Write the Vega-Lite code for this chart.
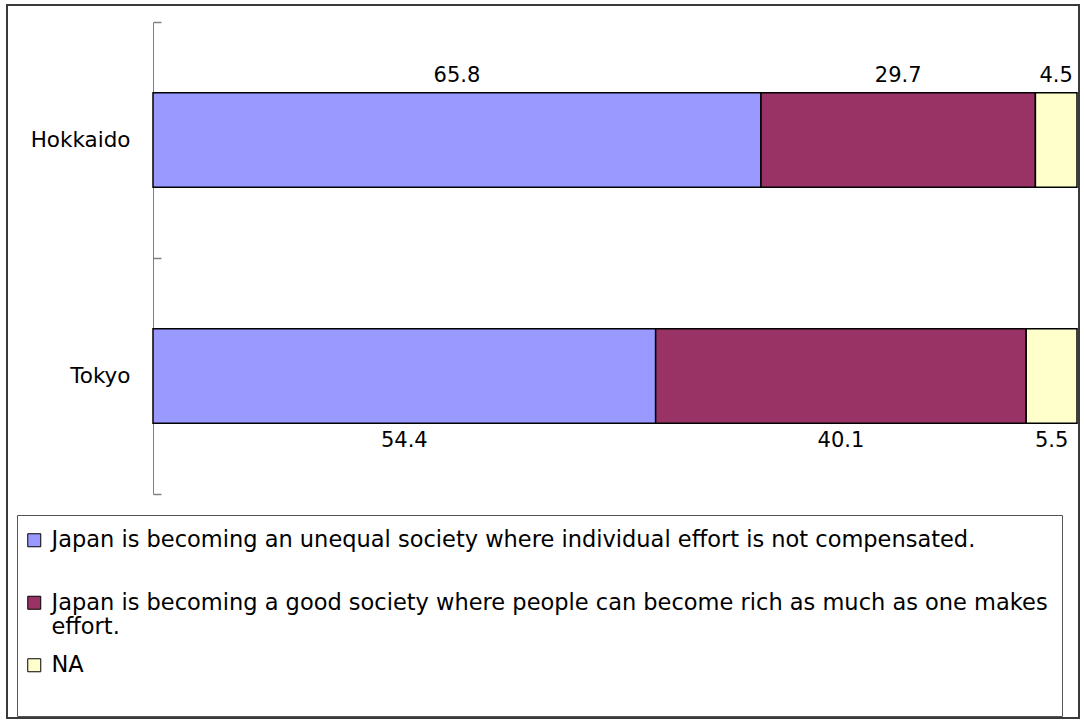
{
  "$schema": "https://vega.github.io/schema/vega-lite/v6.json",
  "width": 1072,
  "height": 713,
  "autosize": {"type": "none"},
  "padding": {"left": 7, "top": 5, "right": 5, "bottom": 4},
  "background": "white",
  "config": {
    "view": {"stroke": "#3a3a3a", "strokeWidth": 2},
    "font": "DejaVu Sans"
  },
  "data": {
    "values": [
      {"region": "Hokkaido", "answer": "Japan is becoming an unequal society where individual effort is not compensated.", "order": 1, "value": 65.8},
      {"region": "Hokkaido", "answer": "Japan is becoming a good society where people can become rich as much as one makes effort.", "order": 2, "value": 29.7},
      {"region": "Hokkaido", "answer": "NA", "order": 3, "value": 4.5},
      {"region": "Tokyo", "answer": "Japan is becoming an unequal society where individual effort is not compensated.", "order": 1, "value": 54.4},
      {"region": "Tokyo", "answer": "Japan is becoming a good society where people can become rich as much as one makes effort.", "order": 2, "value": 40.1},
      {"region": "Tokyo", "answer": "NA", "order": 3, "value": 5.5}
    ]
  },
  "transform": [
    {"stack": "value", "groupby": ["region"], "sort": [{"field": "order", "order": "ascending"}], "as": ["v0", "v1"]},
    {"calculate": "(datum.v0 + datum.v1) / 2", "as": "mid"}
  ],
  "encoding": {
    "y": {
      "field": "region",
      "type": "nominal",
      "sort": ["Hokkaido", "Tokyo"],
      "scale": {"range": [17, 489], "paddingInner": 0, "paddingOuter": 0},
      "axis": {
        "title": null,
        "domainColor": "#808080",
        "ticks": true,
        "tickSize": -8,
        "tickWidth": 1.5,
        "tickOpacity": 1,
        "tickColor": "#808080",
        "tickBand": "extent",
        "offset": -146,
        "labelFontSize": 21.5,
        "labelColor": "black",
        "labelPadding": 31
      }
    }
  },
  "layer": [
    {
      "mark": {"type": "bar", "stroke": "black", "strokeWidth": 1.5, "height": {"band": 0.4}},
      "encoding": {
        "x": {"field": "v0", "type": "quantitative", "scale": {"domain": [0, 100], "range": [146, 1070], "nice": false, "zero": false}, "axis": null},
        "x2": {"field": "v1"},
        "color": {
          "field": "answer",
          "type": "nominal",
          "sort": null,
          "scale": {
            "domain": [
              "Japan is becoming an unequal society where individual effort is not compensated.",
              "Japan is becoming a good society where people can become rich as much as one makes effort.",
              "NA"
            ],
            "range": ["#9999FF", "#993366", "#FFFFCC"]
          },
          "legend": {
            "orient": "none",
            "legendX": 10,
            "legendY": 510,
            "title": null,
            "direction": "vertical",
            "fillColor": "white",
            "strokeColor": "#555555",
            "padding": 14,
            "symbolType": "square",
            "symbolSize": 169,
            "symbolOffset": -8,
            "symbolStrokeColor": "black",
            "symbolStrokeWidth": 1,
            "symbolOpacity": 1,
            "labelFontSize": 22.5,
            "labelColor": "black",
            "labelLimit": 0,
            "labelOffset": 6,
            "rowPadding": 14.5,
            "labelExpr": "indexof(datum.label, 'good') > 0 ? ['Japan is becoming a good society where people can become rich as much as one makes', 'effort.'] : (datum.label === 'NA' ? ['NA', ''] : [datum.label, ''])"
          }
        }
      }
    },
    {
      "transform": [{"filter": "datum.region === 'Hokkaido'"}],
      "mark": {"type": "text", "dy": -64, "fontSize": 21, "color": "black"},
      "encoding": {
        "x": {"field": "mid", "type": "quantitative"},
        "text": {"field": "value", "type": "quantitative", "format": ".1f"}
      }
    },
    {
      "transform": [{"filter": "datum.region === 'Tokyo'"}],
      "mark": {"type": "text", "dy": 65, "fontSize": 21, "color": "black"},
      "encoding": {
        "x": {"field": "mid", "type": "quantitative"},
        "text": {"field": "value", "type": "quantitative", "format": ".1f"}
      }
    }
  ]
}
